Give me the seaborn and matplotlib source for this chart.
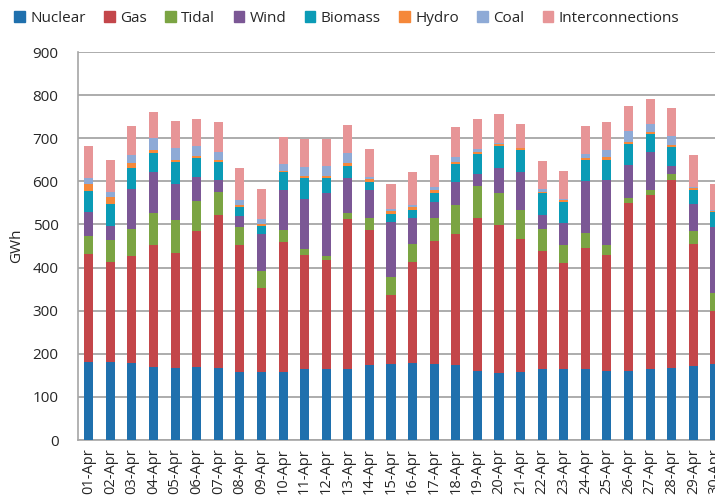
import pandas as pd
import matplotlib.pyplot as plt
import matplotlib.patches as mpatches
import seaborn as sns

# daily generation by source, GWh
days = [f"{d:02d}-Apr" for d in range(1, 31)]
nuclear = [181, 181, 179, 170, 168, 170, 168, 158, 157, 157, 164, 165, 164, 173, 177,
           179, 177, 173, 160, 156, 157, 164, 165, 165, 160, 159, 164, 168, 171, 176]
gas = [251, 232, 248, 283, 266, 315, 353, 295, 195, 302, 264, 252, 348, 314, 160,
       234, 285, 305, 354, 343, 310, 275, 245, 280, 269, 391, 405, 434, 284, 124]
tidal = [42, 50, 62, 74, 76, 69, 54, 42, 41, 29, 15, 9, 14, 27, 40,
         42, 52, 66, 75, 74, 66, 51, 43, 36, 24, 12, 11, 15, 30, 41]
wind = [55, 34, 94, 94, 83, 56, 28, 25, 84, 91, 115, 148, 81, 66, 128,
        59, 37, 54, 27, 58, 88, 33, 50, 119, 150, 77, 88, 19, 62, 154]
biomass = [49, 50, 48, 44, 51, 43, 42, 20, 20, 42, 49, 33, 29, 18, 19,
           20, 22, 42, 47, 51, 51, 50, 49, 49, 47, 48, 41, 44, 34, 34]
hydro = [15, 16, 11, 8, 6, 6, 5, 4, 4, 4, 5, 6, 7, 7, 7,
         6, 6, 5, 6, 5, 5, 2, 4, 4, 6, 5, 5, 4, 4, 3]
coal = [14, 13, 20, 28, 27, 23, 18, 13, 12, 16, 21, 22, 23, 5, 4,
        6, 7, 12, 7, 3, 1, 7, 3, 11, 17, 24, 18, 21, 3, 2]
interconnections = [74, 74, 66, 60, 63, 63, 70, 74, 70, 62, 66, 64, 64, 65, 58,
                    75, 75, 69, 69, 67, 56, 65, 66, 65, 65, 59, 59, 66, 73, 60]

series = ["Nuclear", "Gas", "Tidal", "Wind", "Biomass", "Hydro", "Coal", "Interconnections"]
colors = ["#1f70ad", "#c3464a", "#7ba443", "#7b5795", "#0b9bb6", "#f5883a", "#8eaad6", "#e79597"]

df = pd.DataFrame(dict(zip(series, [nuclear, gas, tidal, wind, biomass, hydro, coal,
                                     interconnections])), index=days)
tops = df.cumsum(axis=1)

sns.set_style("white")
plt.rcParams['font.family'] = ['Open Sans', 'DejaVu Sans']

fig = plt.figure(figsize=(7.15, 5), dpi=100)
ax = fig.add_axes([0.109, 0.12, 0.906, 0.776])

# stacked bars: draw cumulative totals from top layer down
for name, col in reversed(list(zip(series, colors))):
    sns.barplot(x=days, y=tops[name].values, color=col, width=0.42, saturation=1,
                linewidth=0, ax=ax, zorder=3)

ax.set_xlim(-0.5, 29.5)
ax.set_ylim(0, 900)
ax.set_yticks(range(0, 1000, 100))
ax.yaxis.grid(True, color="#a6a6a6", linewidth=1.3)
ax.set_axisbelow(True)
for s in ["top", "right"]:
    ax.spines[s].set_visible(False)
for s in ["left", "bottom"]:
    ax.spines[s].set_color("#a6a6a6")
    ax.spines[s].set_linewidth(1.2)

ax.set_xticks(range(30))
ax.set_xticklabels(days, rotation=90, fontsize=10.5)
ax.set_xticks([i - 0.5 for i in range(31)], minor=True)
ax.tick_params(axis="x", which="major", length=0, pad=6)
ax.tick_params(axis="x", which="minor", length=5, color="#a6a6a6", width=1)
ax.tick_params(axis="y", length=5, color="#a6a6a6", width=1, labelsize=11, pad=9)
ax.set_ylabel("GWh", fontsize=11, labelpad=6)
ax.set_xlabel("")

handles = [mpatches.Patch(color=c) for c in colors]
fig.legend(handles, series, loc="center", bbox_to_anchor=(0.485, 0.964), ncol=8,
           frameon=False, handlelength=0.7, handleheight=0.7, handletextpad=0.35,
           columnspacing=1.2, fontsize=11)

fig.savefig("out.png", dpi=100)
